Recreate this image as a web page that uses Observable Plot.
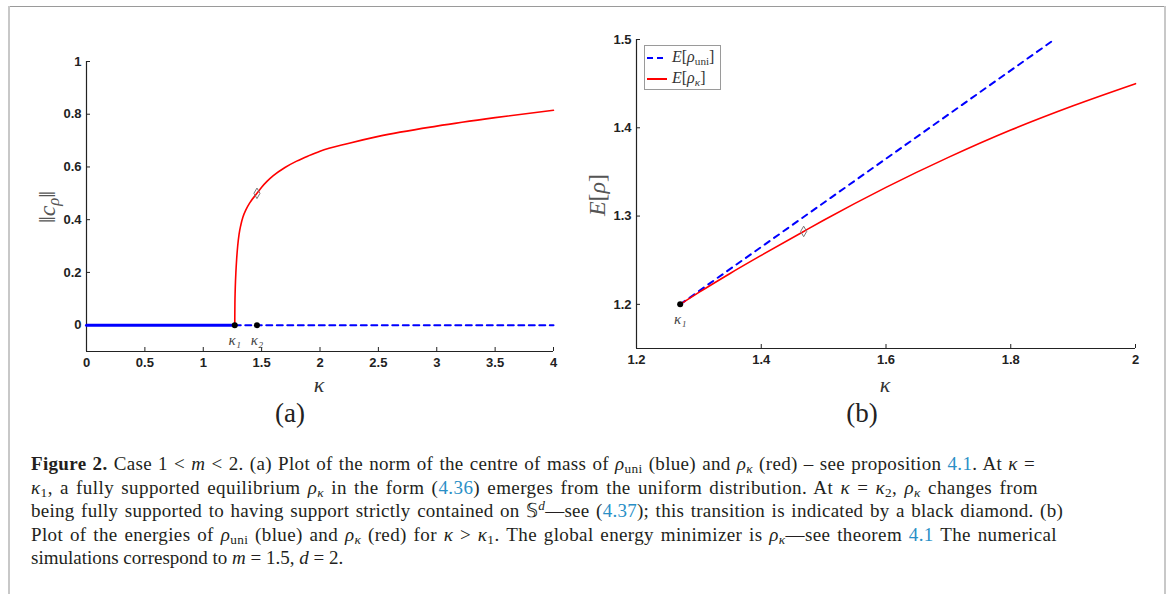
<!DOCTYPE html>
<html><head><meta charset="utf-8">
<script src="https://cdn.jsdelivr.net/npm/d3@7"></script>
<script src="https://cdn.jsdelivr.net/npm/@observablehq/plot@0.6"></script>
<style>
html,body{margin:0;padding:0;background:#fff;}
#fig{position:relative;width:1168px;height:594px;overflow:hidden;font-family:"Liberation Serif","Times New Roman",serif;color:#231f20;}
.abs{position:absolute;white-space:nowrap;}
.frameTop{left:8px;top:6px;width:1158px;height:1px;background:#9a9a9a;}
.frameL{left:8px;top:6px;width:2px;height:600px;background:#c8c8c8;}
.frameR{left:1164px;top:6px;width:2px;height:600px;background:#c8c8c8;}
.math{font-style:italic;}
sub,sup{font-size:0.7em;line-height:0;}
sub{vertical-align:-0.25em;}
sup{vertical-align:0.55em;}
.cap{font-size:19px;line-height:23.6px;}
.cap a{color:#2a8fc6;text-decoration:none;}
.axlab{font-size:22px;color:#333;transform:translate(-50%,-50%);}
.ylab{font-size:24px;color:#555;transform:translate(-50%,-50%) rotate(-90deg);}
.panel{font-size:27px;color:#222;transform:translate(-50%,-50%);}
.legend{left:644px;top:45px;width:75px;height:43px;border:1px solid #9a9a9a;background:#fff;}
.legend .row{position:absolute;left:0;height:20px;font-size:16px;color:#333;}
</style></head><body><div id="fig"></div>
<script>
// ---------- data ----------
const kappa1 = 1.27;
const kappa2 = 1.46;
// panel (a): norm of centre of mass
const aUniSolidKappa = [0, 1.27];
const aUniSolidValue = [0, 0];
const aUniDashKappa = [1.27, 4];
const aUniDashValue = [0, 0];
const aRedKappa = [1.270, 1.2702, 1.2712, 1.2735, 1.2765, 1.2795, 1.286, 1.295, 1.307, 1.322, 1.34, 1.365, 1.40, 1.46, 1.50, 1.55, 1.60, 1.70, 1.80, 1.90, 2.00, 2.25, 2.50, 3.00, 3.50, 4.00];
const aRedValue = [0.0, 0.03, 0.08, 0.13, 0.17, 0.20, 0.25, 0.30, 0.345, 0.38, 0.41, 0.437, 0.465, 0.500, 0.523, 0.547, 0.567, 0.598, 0.622, 0.642, 0.660, 0.690, 0.716, 0.755, 0.787, 0.815];
const aDiamondKappa = [1.46];
const aDiamondValue = [0.5];
const aXTicks = [0, 0.5, 1, 1.5, 2, 2.5, 3, 3.5, 4];
const aYTicks = [0, 0.2, 0.4, 0.6, 0.8, 1];
// panel (b): energies
const bUniKappa = [1.27, 1.87];
const bUniEnergy = [1.2, 1.5];
const bRedKappa = [1.27, 1.30, 1.35, 1.40, 1.468, 1.5, 1.6, 1.7, 1.8, 1.9, 2.0];
const bRedEnergy = [1.2, 1.2135, 1.235, 1.2555, 1.2826, 1.2952, 1.3325, 1.3665, 1.3975, 1.425, 1.450];
const bDiamondKappa = [1.468];
const bDiamondEnergy = [1.2826];
const bXTicks = [1.2, 1.4, 1.6, 1.8, 2];
const bYTicks = [1.2, 1.3, 1.4, 1.5];
const legendLabels = ['<i>E</i>[<i>ρ</i><sub>uni</sub>]', '<i>E</i>[<i>ρ</i><sub><i>κ</i></sub>]'];
const captionLines = [
 '<b>Figure 2.</b> Case 1 &lt; <i>m</i> &lt; 2. (a) Plot of the norm of the centre of mass of <i>ρ</i><sub>uni</sub> (blue) and <i>ρ<sub>κ</sub></i> (red) – see proposition <a>4.1</a>. At <i>κ</i> =',
 '<i>κ</i><sub>1</sub>, a fully supported equilibrium <i>ρ<sub>κ</sub></i> in the form (<a>4.36</a>) emerges from the uniform distribution. At <i>κ</i> = <i>κ</i><sub>2</sub>, <i>ρ<sub>κ</sub></i> changes from',
 'being fully supported to having support strictly contained on 𝕊<sup><i>d</i></sup>—see (<a>4.37</a>); this transition is indicated by a black diamond. (b)',
 'Plot of the energies of <i>ρ</i><sub>uni</sub> (blue) and <i>ρ<sub>κ</sub></i> (red) for <i>κ</i> &gt; <i>κ</i><sub>1</sub>. The global energy minimizer is <i>ρ<sub>κ</sub></i>—see theorem <a>4.1</a> The numerical',
 'simulations correspond to <i>m</i> = 1.5, <i>d</i> = 2.'
];

// ---------- helpers ----------
const zip = (xs, ys) => xs.map((x, i) => ({x, y: ys[i]}));
const BLUE = "#0000ff", RED = "#ff0000", AX = "#222";
const fig = document.getElementById("fig");
function add(cls, html, left, top) {
  const d = document.createElement("div");
  d.className = "abs " + cls;
  if (left != null) d.style.left = left + "px";
  if (top != null) d.style.top = top + "px";
  d.innerHTML = html;
  fig.appendChild(d);
  return d;
}
["frameTop", "frameL", "frameR"].forEach(c => add(c, "", null, null));

function axesMarks({xd, yd, xt, yt, pw, ph}) {
  return [
    Plot.ruleX([xd[0]], {stroke: AX, strokeWidth: 1.2}),
    Plot.ruleY([yd[0]], {stroke: AX, strokeWidth: 1.2}),
    Plot.tickX(xt, {x: d => d, insetTop: ph - 4, stroke: AX}),
    Plot.tickY(yt, {y: d => d, insetRight: pw - 4, stroke: AX}),
    Plot.axisX(xt, {tickSize: 0, tickPadding: 6, tickFormat: d => String(d), fill: AX, label: null}),
    Plot.axisY(yt, {tickSize: 0, tickPadding: 5, tickFormat: d => String(d), fill: AX, label: null})
  ];
}
const style = {fontFamily: "'Liberation Sans', Arial, sans-serif", fontSize: "13px", fontWeight: "bold", background: "transparent", overflow: "visible"};
const kappaLabelStyle = {fontFamily: "'Liberation Serif', serif", fontStyle: "italic", fontWeight: "normal", fontSize: 15, fill: "#444"};

// ---------- panel (a) ----------
{
  const W = 580, H = 400, mL = 86, mR = 27, mT = 61, mB = 49;
  const xd = [0, 4], yd = [-0.1, 1];
  const svg = Plot.plot({
    width: W, height: H, marginLeft: mL, marginRight: mR, marginTop: mT, marginBottom: mB,
    x: {domain: xd, label: null}, y: {domain: yd, label: null}, style,
    marks: [
      ...axesMarks({xd, yd, xt: aXTicks, yt: aYTicks, pw: W - mL - mR, ph: H - mT - mB}),
      Plot.line(zip(aUniDashKappa, aUniDashValue), {x: "x", y: "y", stroke: BLUE, strokeWidth: 2, strokeDasharray: "6,4.5"}),
      Plot.line(zip(aUniSolidKappa, aUniSolidValue), {x: "x", y: "y", stroke: BLUE, strokeWidth: 3}),
      Plot.line(zip(aRedKappa, aRedValue), {x: "x", y: "y", stroke: RED, strokeWidth: 1.6, curve: "monotone-x"}),
      Plot.dot(zip([kappa1, kappa2], [0, 0]), {x: "x", y: "y", r: 3, fill: "#000"}),
      Plot.dot(zip(aDiamondKappa, aDiamondValue), {x: "x", y: "y", symbol: "diamond", r: 3.2, stroke: "#777", strokeWidth: 1, fill: "none"}),
      Plot.text(zip([kappa1, kappa2], [0, 0]), {x: "x", y: "y", text: (d, i) => ["κ₁", "κ₂"][i], dy: 15, ...kappaLabelStyle})
    ]
  });
  svg.style.position = "absolute"; svg.style.left = "0px"; svg.style.top = "0px";
  fig.appendChild(svg);
}
// ---------- panel (b) ----------
{
  const L0 = 550, W = 600, H = 400, mL = 86, mR = 15, mT = 39, mB = 52;
  const xd = [1.2, 2], yd = [1.15, 1.5];
  const svg = Plot.plot({
    width: W, height: H, marginLeft: mL, marginRight: mR, marginTop: mT, marginBottom: mB,
    x: {domain: xd, label: null}, y: {domain: yd, label: null}, style,
    marks: [
      ...axesMarks({xd, yd, xt: bXTicks, yt: bYTicks, pw: W - mL - mR, ph: H - mT - mB}),
      Plot.line(zip(bUniKappa, bUniEnergy), {x: "x", y: "y", stroke: BLUE, strokeWidth: 2, strokeDasharray: "6,5.5"}),
      Plot.line(zip(bRedKappa, bRedEnergy), {x: "x", y: "y", stroke: RED, strokeWidth: 1.6, curve: "monotone-x"}),
      Plot.dot(zip([kappa1], [1.2]), {x: "x", y: "y", r: 3, fill: "#000"}),
      Plot.dot(zip(bDiamondKappa, bDiamondEnergy), {x: "x", y: "y", symbol: "diamond", r: 3.2, stroke: "#777", strokeWidth: 1, fill: "none"}),
      Plot.text(zip([kappa1], [1.2]), {x: "x", y: "y", text: () => "κ₁", dy: 15, ...kappaLabelStyle})
    ]
  });
  svg.style.position = "absolute"; svg.style.left = L0 + "px"; svg.style.top = "0px";
  fig.appendChild(svg);
}

// ---------- axis titles & panel labels ----------
add("axlab math", "κ", 319, 385);
add("axlab math", "κ", 885, 385);
add("ylab", "‖<i>c</i><sub><i>ρ</i></sub>‖", 47, 207);
add("ylab", "<i>E</i>[<i>ρ</i>]", 597, 195);
add("panel", "(a)", 290, 413);
add("panel", "(b)", 862, 413);

// ---------- legend ----------
{
  const lg = add("legend", "", null, null);
  legendLabels.forEach((t, i) => {
    const row = document.createElement("div");
    row.className = "row";
    row.style.top = (2 + i * 21) + "px";
    const sw = i === 0
      ? '<svg width="22" height="20" style="position:absolute;left:1px;top:0"><line x1="1" y1="10" x2="21" y2="10" stroke="#0000ff" stroke-width="2" stroke-dasharray="6,4"/></svg>'
      : '<svg width="22" height="20" style="position:absolute;left:1px;top:0"><line x1="1" y1="10" x2="21" y2="10" stroke="#ff0000" stroke-width="2"/></svg>';
    row.innerHTML = sw + '<span style="position:absolute;left:27px;top:0px;">' + t + '</span>';
    lg.appendChild(row);
  });
}

// ---------- caption ----------
{
  const targets = [1035, 1038, 1063, 1057, null];
  const left = 31, top = 452, lh = 23.6;
  captionLines.forEach((h, i) => {
    const d = add("cap", h, left, top + i * lh);
    if (targets[i]) {
      const w0 = d.getBoundingClientRect().width;
      const n = d.textContent.length;
      const extra = targets[i] - left - w0;
      const ls = Math.max(0, Math.min(0.45, 0.55 * extra / n));
      d.style.letterSpacing = ls + "px";
      const w1 = d.getBoundingClientRect().width;
      const spaces = (d.textContent.match(/ /g) || []).length;
      d.style.wordSpacing = ((targets[i] - left - w1) / spaces) + "px";
    }
  });
}
</script></body></html>
